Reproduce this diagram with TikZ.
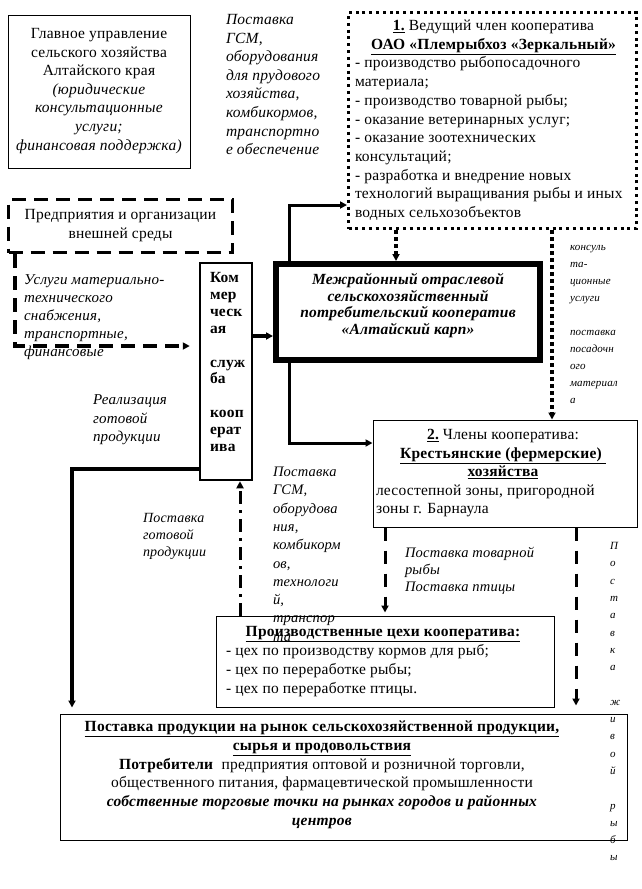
\documentclass[tikz,border=0pt]{standalone}
\usepackage{fontspec}
\setmainfont{Liberation Serif}[LetterSpace=1.5]
\usetikzlibrary{arrows.meta}
\newcommand\ts{\rule{0pt}{13pt}}
\begin{document}
\begin{tikzpicture}[x=1pt,y=-1pt,
  box/.style={draw, inner sep=0pt, line width=1pt},
  txt/.style={inner sep=0pt, outer sep=0pt},
  fn/.style={font={\fontsize{15.5}{18.6}\selectfont}},
  fs/.style={font={\fontsize{11}{17}\selectfont\itshape}},
  tip/.style={-{Triangle[length=7pt,width=7pt]}},
  thk/.style={line width=3pt, tip},
  dotB/.style={line width=3pt, dash pattern=on 3pt off 3.8pt},
  dotarrow/.style={line width=3.5pt, dash pattern=on 3.5pt off 3.5pt, tip},
  dashD/.style={line width=3.5pt, dash pattern=on 14pt off 8pt},
  dashF/.style={line width=3pt, dash pattern=on 13pt off 10pt, tip},
  dashdotG/.style={line width=3pt, dash pattern=on 13pt off 6pt on 3pt off 6pt, tip}
]
\useasboundingbox (0,0) rectangle (642,889);
\fill[white] (0,0) rectangle (642,889);

% boxes
\node[box, minimum width=182pt, minimum height=153pt] (A) at (99,91.5) {};
\node[box, line width=3pt, dotB, minimum width=288pt, minimum height=216pt] (B) at (492.5,120.5) {};
\node[box, line width=3.5pt, dashD, minimum width=224pt, minimum height=53pt] (D) at (120.5,226) {};
\node[box, line width=2.5pt, minimum width=52pt, minimum height=217pt] (E) at (226,371.5) {};
\node[box, line width=6pt, minimum width=264pt, minimum height=96pt] (C) at (408,312) {};
\node[box, minimum width=264pt, minimum height=107pt] (F) at (505,473.5) {};
\node[box, minimum width=338pt, minimum height=91pt] (G) at (385,661.5) {};
\node[box, minimum width=567pt, minimum height=126pt] (H) at (343.5,777) {};

% texts in boxes
\node[txt, fn, anchor=north, align=center] (At) at (99,25.5) {\ts Главное управление\\сельского хозяйства\\Алтайского края\\\textit{(юридические}\\\textit{консультационные}\\\textit{услуги;}\\\textit{финансовая поддержка)}};

\node[txt, anchor=north west, align=left, font={\fontsize{15.5}{18.7}\selectfont}] (Bt) at (355,17.5) {\ts\makebox[277pt][c]{\textbf{\underline{1.}} Ведущий член кооператива}\\
\makebox[277pt][c]{\textbf{\underline{ОАО «Племрыбхоз «Зеркальный»}}}\\
- производство рыбопосадочного\\
материала;\\
- производство товарной рыбы;\\
- оказание ветеринарных услуг;\\
- оказание зоотехнических\\
консультаций;\\
- разработка и внедрение новых\\
технологий выращивания рыбы и иных\\
водных сельхозобъектов};

\node[txt, anchor=north, align=center, font={\fontsize{15.5}{19}\selectfont}] (Dt) at (120.5,206.5) {\ts Предприятия и организации\\внешней среды};

\node[txt, anchor=north west, align=left, font={\fontsize{15.5}{16.9}\selectfont\bfseries}] (Et) at (210,269.5) {\ts Ком\\мер\\ческ\\ая\\\mbox{}\\служ\\ба\\\mbox{}\\кооп\\ерат\\ива};

\node[txt, anchor=north, align=center, font={\fontsize{15.5}{16.7}\selectfont\bfseries\itshape}] (Ct) at (408,271.5) {\ts Межрайонный отраслевой\\сельскохозяйственный\\потребительский кооператив\\«Алтайский карп»};

\node[txt, fn, anchor=north west, align=left] (Ft) at (376,426.5) {\ts\makebox[254pt][c]{\textbf{\underline{2.}} Члены кооператива:}\\
\makebox[254pt][c]{\textbf{\underline{Крестьянские (фермерские) }}}\\
\makebox[254pt][c]{\textbf{\underline{хозяйства}}}\\
лесостепной зоны, пригородной\\
зоны г. Барнаула};

\node[txt, anchor=north west, align=left, font={\fontsize{15.5}{19}\selectfont}] (Gt) at (226,623.5) {\ts\makebox[314pt][c]{\textbf{\underline{Производственные цехи кооператива:}}}\\
- цех по производству кормов для рыб;\\
- цех по переработке рыбы;\\
- цех по переработке птицы.};

\node[txt, anchor=north, align=center, font={\fontsize{15.5}{18.8}\selectfont}] (Ht) at (322,718.5) {\ts\textbf{\underline{Поставка продукции на рынок сельскохозяйственной продукции,}}\\
\textbf{\underline{сырья и продовольствия}}\\
\textbf{Потребители}\ \ предприятия оптовой и розничной торговли,\\
общественного питания, фармацевтической промышленности\\
\textbf{\textit{собственные торговые точки на рынках городов и районных}}\\
\textbf{\textit{центров}}};

% free labels
\node[txt, anchor=north west, align=left, font={\fontsize{15.5}{18.6}\selectfont\itshape}] (P1) at (226,11.5) {\ts Поставка\\ГСМ,\\оборудования\\для прудового\\хозяйства,\\комбикормов,\\транспортно\\е обеспечение};

\node[txt, anchor=north west, align=left, font={\fontsize{15}{18}\selectfont\itshape}] (U) at (24,271.5) {\ts Услуги материально-\\технического\\снабжения,\\транспортные,\\финансовые};

\node[txt, anchor=north west, align=left, font={\fontsize{15}{18.5}\selectfont\itshape}] (R) at (93,391.5) {\ts Реализация\\готовой\\продукции};

\node[txt, fs, anchor=north west, align=left] (K) at (570,237.5) {\ts консуль\\та-\\ционные\\услуги\\\mbox{}\\поставка\\посадочн\\ого\\материал\\а};

\node[txt, anchor=north west, align=left, font={\fontsize{14}{17}\selectfont\itshape}] (PG) at (143,509.5) {\ts Поставка\\готовой\\продукции};

\node[txt, anchor=north west, align=left, font={\fontsize{14.5}{18.3}\selectfont\itshape}] (PS) at (273,463.5) {\ts Поставка\\ГСМ,\\оборудова\\ния,\\комбикорм\\ов,\\технологи\\й,\\транспор\\та};

\node[txt, anchor=north west, align=left, font={\fontsize{14.5}{17}\selectfont\itshape}] (PT) at (405,544.5) {\ts Поставка товарной\\рыбы\\Поставка птицы};

\node[txt, anchor=north west, align=left, font={\fontsize{11}{17.3}\selectfont\itshape}] (V) at (610,536.5) {\ts П\\о\\с\\т\\а\\в\\к\\а\\\mbox{}\\ж\\и\\в\\о\\й\\\mbox{}\\р\\ы\\б\\ы};

% helper coordinates
\coordinate (cbT) at (289,205);
\coordinate (cbF) at (289,443);
\coordinate (y336) at (0,336);
\coordinate (x396) at (396,0);
\coordinate (x552) at (552,0);
\coordinate (dk) at (15,346);
\coordinate (ek) at (72,469);
\coordinate (x240) at (240,0);
\coordinate (x385) at (385,0);
\coordinate (x576) at (576,0);

% connectors
\draw[thk] (C.north -| cbT) -- (cbT) -- (B.west |- cbT);
\draw[thk] (C.south -| cbF) -- (cbF) -- (F.west |- cbF);
\draw[line width=3.5pt, tip] (E.east |- y336) -- (C.west |- y336);
\draw[dotarrow] (B.south -| x396) -- (C.north -| x396);
\draw[dotarrow] (B.south -| x552) -- (F.north -| x552);
\draw[dashD, tip, shorten >=9pt] (D.south -| dk) -- (dk) -- (E.west |- dk);
\draw[line width=4.5pt, tip, shorten >=6pt] (E.west |- ek) -- (ek) -- (H.north -| ek);
\draw[dashdotG] (G.north -| x240) -- (E.south -| x240);
\draw[dashF, shorten >=3pt] (F.south -| x385) -- (G.north -| x385);
\draw[dashF, shorten >=8pt] (F.south -| x576) -- (H.north -| x576);
\end{tikzpicture}
\end{document}
